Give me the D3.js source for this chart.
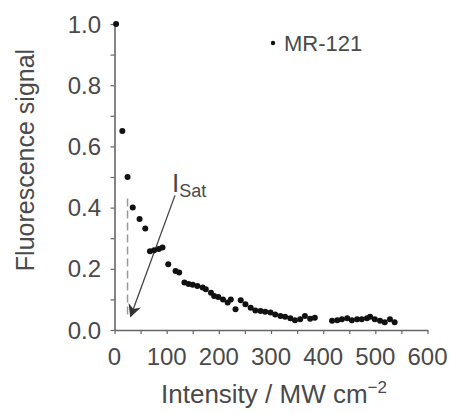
<!DOCTYPE html>
<html lang="en">
<head>
  <meta charset="UTF-8">
  <title>MR-121 fluorescence vs intensity</title>
  <script src="https://d3js.org/d3.v7.min.js"></script>
  <style>
    body {
      margin: 0;
      background: #fff;
      font-family: "Liberation Sans", Arial, sans-serif;
    }
  </style>
</head>
<body>
<script>
const width = 456;
const height = 413;

// measured points (intensity in MW cm^-2, normalised signal)
const intensity = [3, 15, 25, 35, 48, 59, 68, 76, 85, 92, 103, 117, 124, 134, 142, 150, 159, 169, 175,
  185, 191, 199, 208, 217, 223, 232, 242, 251, 261, 270, 280, 289, 299, 308, 318, 327, 337, 346, 356,
  365, 375, 384, 417, 427, 436, 446, 455, 465, 474, 484, 490, 499, 509, 518, 528, 537];
const signal = [1.0, 0.65, 0.50, 0.40, 0.363, 0.332, 0.257, 0.261, 0.265, 0.27, 0.215, 0.193, 0.188,
  0.155, 0.150, 0.148, 0.144, 0.139, 0.133, 0.122, 0.111, 0.108, 0.100, 0.090, 0.100, 0.068, 0.097,
  0.084, 0.073, 0.064, 0.062, 0.060, 0.057, 0.051, 0.046, 0.043, 0.038, 0.032, 0.035, 0.046, 0.037,
  0.040, 0.030, 0.032, 0.035, 0.038, 0.032, 0.035, 0.035, 0.038, 0.043, 0.035, 0.030, 0.025, 0.035, 0.025];

const xTickLabels = [0, 100, 200, 300, 400, 500, 600];
const yTickLabels = [0.0, 0.2, 0.4, 0.6, 0.8, 1.0];
const seriesName = "MR-121";

// I_Sat marker: dashed drop line and arrow
const iSat = 25;
const dropLine = [0.43, 0.05];
const arrowFrom = [116, 0.44];
const arrowTo = [31, 0.045];

const svg = d3.select("body").append("svg")
  .attr("width", width)
  .attr("height", height)
  .attr("viewBox", [0, 0, width, height]);

const x = d3.scaleLinear().domain([0, 600]).range([114.5, 427.5]);
const y = d3.scaleLinear().domain([0, 1]).range([330, 24]);

const axisColor = "#666";
const textColor = "#4a4a4a";

// x axis
const xAxis = svg.append("g")
  .attr("transform", `translate(0,${y(0)})`)
  .call(d3.axisBottom(x).tickValues(d3.range(0, 601, 50)).tickFormat("").tickSize(4).tickSizeOuter(0));
xAxis.select(".domain").attr("stroke", axisColor).attr("stroke-width", 1.6);
xAxis.selectAll(".tick line").attr("stroke", axisColor).attr("stroke-width", 1.2);

svg.append("g").selectAll("text")
  .data(xTickLabels)
  .join("text")
  .attr("x", d => x(d))
  .attr("y", 365)
  .attr("text-anchor", "middle")
  .attr("font-size", 24)
  .attr("fill", textColor)
  .text(d => d);

// y axis
const yAxis = svg.append("g")
  .attr("transform", `translate(${x(0)},0)`)
  .call(d3.axisLeft(y).tickValues(d3.range(0, 1.01, 0.1)).tickFormat("").tickSize(4).tickSizeOuter(0));
yAxis.select(".domain").attr("stroke", axisColor).attr("stroke-width", 1.6);
yAxis.selectAll(".tick line").attr("stroke", axisColor).attr("stroke-width", 1.2);

svg.append("g").selectAll("text")
  .data(yTickLabels)
  .join("text")
  .attr("x", 101)
  .attr("y", d => y(d))
  .attr("dy", "0.36em")
  .attr("text-anchor", "end")
  .attr("font-size", 24)
  .attr("fill", textColor)
  .text(d => d.toFixed(1));

// axis titles
const xTitle = svg.append("text")
  .attr("x", (x(0) + x(600)) / 2 + 3)
  .attr("y", 403)
  .attr("text-anchor", "middle")
  .attr("font-size", 26)
  .attr("fill", textColor);
xTitle.append("tspan").text("Intensity / MW cm");
xTitle.append("tspan").attr("font-size", 17).attr("dy", -10).text("\u22122");

svg.append("text")
  .attr("transform", `translate(34,${(y(0) + y(1)) / 2 - 17}) rotate(-90)`)
  .attr("text-anchor", "middle")
  .attr("font-size", 25)
  .attr("fill", textColor)
  .text("Fluorescence signal");

// drop line at I_Sat
svg.append("line")
  .attr("x1", x(iSat)).attr("x2", x(iSat))
  .attr("y1", y(dropLine[0])).attr("y2", y(dropLine[1]))
  .attr("stroke", "#999")
  .attr("stroke-width", 1.5)
  .attr("stroke-dasharray", "8,4");

// arrow
svg.append("defs").append("marker")
  .attr("id", "head")
  .attr("viewBox", "0 0 10 10")
  .attr("refX", 9)
  .attr("refY", 5)
  .attr("markerWidth", 15)
  .attr("markerHeight", 13)
  .attr("markerUnits", "userSpaceOnUse")
  .attr("orient", "auto")
  .append("path")
  .attr("d", "M0,0 L10,5 L0,10 L3,5 Z")
  .attr("fill", "#333");

svg.append("line")
  .attr("x1", x(arrowFrom[0])).attr("y1", y(arrowFrom[1]))
  .attr("x2", x(arrowTo[0])).attr("y2", y(arrowTo[1]))
  .attr("stroke", "#444")
  .attr("stroke-width", 1.3)
  .attr("marker-end", "url(#head)");

const isatLabel = svg.append("text")
  .attr("x", 172)
  .attr("y", 192)
  .attr("font-size", 26)
  .attr("fill", textColor);
isatLabel.append("tspan").text("I");
isatLabel.append("tspan").attr("font-size", 18).attr("dy", 5).text("Sat");

// data points
svg.append("g").selectAll("circle")
  .data(intensity.map((d, i) => [d, signal[i]]))
  .join("circle")
  .attr("cx", d => x(d[0]))
  .attr("cy", d => y(d[1]))
  .attr("r", 3)
  .attr("fill", "#111");

// legend
svg.append("circle")
  .attr("cx", 273)
  .attr("cy", 43)
  .attr("r", 2.2)
  .attr("fill", "#111");
svg.append("text")
  .attr("x", 284)
  .attr("y", 51)
  .attr("font-size", 22)
  .attr("fill", textColor)
  .text(seriesName);
</script>
</body>
</html>
